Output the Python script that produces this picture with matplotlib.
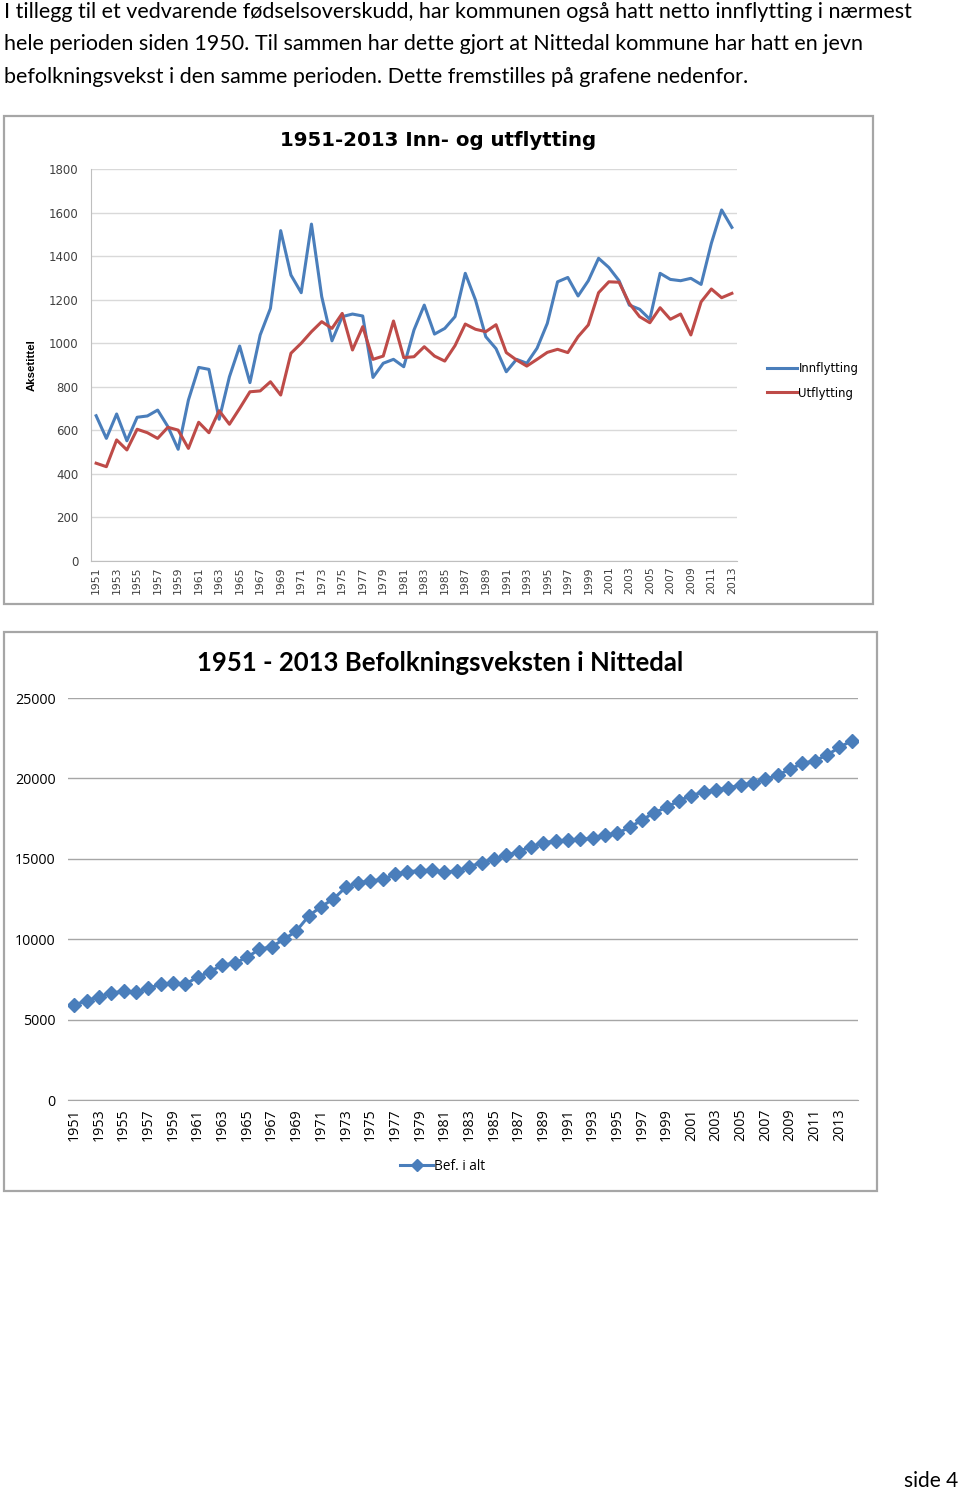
import numpy as np
import matplotlib
matplotlib.use("Agg")
import matplotlib.pyplot as plt
from matplotlib.patches import Rectangle
from matplotlib.lines import Line2D

# data lest av fra figuren
years_top = np.arange(1951, 2014)
innflytting = [667, 563, 675, 552, 660, 666, 693, 617, 513, 739,
               889, 880, 651, 846, 987, 819, 1038, 1160, 1517, 1313,
               1232, 1547, 1214, 1011, 1122, 1134, 1125, 843, 908, 926,
               892, 1061, 1175, 1042, 1068, 1122, 1321, 1198, 1030, 975,
               869, 926, 908, 977, 1091, 1282, 1302, 1217, 1287, 1390,
               1348, 1287, 1175, 1156, 1110, 1321, 1293, 1287, 1298, 1270,
               1459, 1612, 1532]
utflytting = [449, 433, 556, 510, 605, 589, 563, 614, 601, 517,
              637, 589, 690, 628, 701, 777, 781, 823, 762, 954,
              1000, 1053, 1099, 1068, 1137, 969, 1076, 926, 941, 1102,
              934, 938, 984, 941, 918, 989, 1088, 1064, 1053, 1085,
              957, 923, 895, 926, 958, 972, 957, 1030, 1084, 1232,
              1282, 1280, 1183, 1122, 1094, 1163, 1110, 1134, 1038, 1190,
              1249, 1209, 1229]

years_bot = np.arange(1951, 2015)
befolkning = [5908, 6177, 6426, 6633, 6779, 6695, 6944, 7193, 7255, 7214,
              7628, 7980, 8396, 8500, 8873, 9370, 9536, 9993, 10510, 11443,
              12022, 12500, 13228, 13515, 13620, 13724, 14035, 14200, 14260, 14303,
              14158, 14260, 14510, 14760, 14966, 15216, 15443, 15754, 16003, 16107,
              16169, 16210, 16272, 16480, 16584, 16957, 17413, 17870, 18201, 18615,
              18927, 19175, 19279, 19425, 19570, 19736, 19944, 20211, 20566, 20935,
              21100, 21455, 21935, 22345]

tick_years = list(range(1951, 2014, 2))

W, H = 960, 1491
BLUE = "#4a7ebb"
RED = "#be4b48"
GRID = "#d9d9d9"
TXT = "#404040"


def box(x0, y0, x1, y1):
    # pikselkoordinater -> figurbrøk
    return [x0 / W, 1 - y1 / H, (x1 - x0) / W, (y1 - y0) / H]


fig = plt.figure(figsize=(W / 100, H / 100), dpi=100)

# tekst øverst
para = ["I tillegg til et vedvarende fødselsoverskudd, har kommunen også hatt netto innflytting i nærmest",
        "hele perioden siden 1950. Til sammen har dette gjort at Nittedal kommune har hatt en jevn",
        "befolkningsvekst i den samme perioden. Dette fremstilles på grafene nedenfor."]
for i, line in enumerate(para):
    fig.text(4 / W, 1 - (12 + i * 32.5) / H, line, family="Lato", fontsize=15.5,
             va="center", ha="left", color="black")

# rammer rundt diagrammene
for (x0, y0, x1, y1) in [(4, 116, 873, 604), (4, 632, 877, 1191)]:
    fig.patches.append(Rectangle((x0 / W, 1 - y1 / H), (x1 - x0) / W, (y1 - y0) / H,
                                 transform=fig.transFigure, fill=False,
                                 edgecolor="#a6a6a6", linewidth=1.6))

# --- diagram 1: inn- og utflytting ---
ax1 = fig.add_axes(box(91, 169, 737, 561))
ax1.plot(years_top, innflytting, color=BLUE, lw=2.2, label="Innflytting")
ax1.plot(years_top, utflytting, color=RED, lw=2.2, label="Utflytting")
ax1.set_xlim(1950.5, 2013.5)
ax1.set_ylim(0, 1800)
ax1.set_yticks(range(0, 1801, 200))
ax1.set_xticks(tick_years)
ax1.set_xticklabels([str(y) for y in tick_years], rotation=90, fontsize=7.8,
                    family="DejaVu Sans", color=TXT)
ax1.tick_params(axis="y", length=0, pad=9, labelsize=8.5, labelcolor=TXT)
ax1.tick_params(axis="x", length=0, pad=4)
ax1.grid(axis="y", color=GRID, lw=1)
ax1.set_axisbelow(True)
for s in ["top", "right"]:
    ax1.spines[s].set_visible(False)
ax1.spines["left"].set_color("#bfbfbf")
ax1.spines["bottom"].set_color("#bfbfbf")
ax1.axhline(1800, color="#a0a0a0", lw=1.2, zorder=0)
ax1.set_ylabel("Aksetittel", fontsize=8.2, fontweight="bold", family="Liberation Sans",
               labelpad=9)
ax1.legend(loc="center left", bbox_to_anchor=(1.03, 0.46), frameon=False,
           handlelength=2.6, handletextpad=0.1, labelspacing=1.0,
           prop={"family": "DejaVu Sans", "size": 8.4})
fig.text(438 / W, 1 - 140 / H, "1951-2013 Inn- og utflytting", ha="center", va="center",
         fontsize=14.2, fontweight="bold", family="DejaVu Sans", color="black")

# --- diagram 2: befolkningsvekst ---
ax2 = fig.add_axes(box(68, 698, 858, 1100))
ax2.plot(years_bot, befolkning, color=BLUE, lw=2.2, marker="D", ms=7.5,
         markeredgecolor=BLUE, label="Bef. i alt")
ax2.set_xlim(1950.5, 2014.5)
ax2.set_ylim(0, 25000)
ax2.set_yticks(range(0, 25001, 5000))
ax2.set_xticks(tick_years)
ax2.set_xticklabels([str(y) for y in tick_years], rotation=90, fontsize=10.3,
                    family="Open Sans", color="black")
ax2.tick_params(axis="y", length=0, pad=9, labelsize=10.3, labelcolor="black")
for lab in ax2.get_yticklabels():
    lab.set_family("Open Sans")
ax2.tick_params(axis="x", length=0, pad=6)
ax2.grid(axis="y", color="#a6a6a6", lw=1)
ax2.set_axisbelow(True)
for s in ["top", "right", "left"]:
    ax2.spines[s].set_visible(False)
ax2.spines["bottom"].set_color("#a6a6a6")
fig.text(440 / W, 1 - 663 / H, "1951 - 2013 Befolkningsveksten i Nittedal", ha="center",
         va="center", fontsize=18.5, fontweight="bold", family="Lato", color="black")
h = [Line2D([], [], color=BLUE, lw=2.2, marker="D", ms=6, markeredgecolor=BLUE)]
fig.legend(h, ["Bef. i alt"], loc="center", bbox_to_anchor=(443 / W, 1 - 1166 / H),
           frameon=False, handlelength=2.4, handletextpad=0.1,
           prop={"family": "Open Sans", "size": 9.8})

fig.text(958 / W, 1 - 1481 / H, "side 4", ha="right", va="center", family="Lato",
         fontsize=15, color="black")

fig.savefig("out.png", dpi=100)
